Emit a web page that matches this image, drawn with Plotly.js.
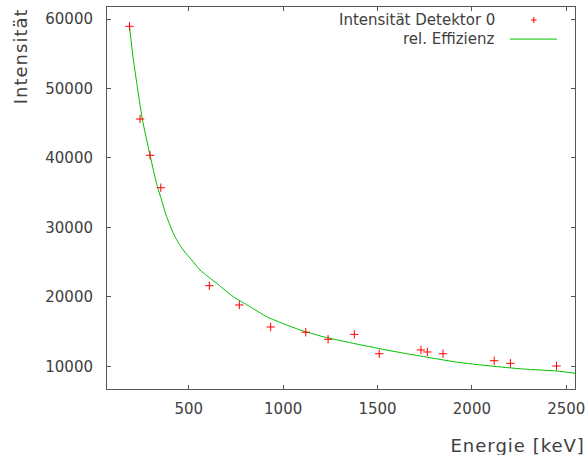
<!DOCTYPE html>
<html>
<head>
<meta charset="utf-8">
<script src="https://cdn.plot.ly/plotly-3.0.1.min.js"></script>
<style>
  html, body { margin: 0; padding: 0; background: #fff; }
  #chart { width: 588px; height: 455px; }
  .annotation[data-index="0"] text, .annotation[data-index="1"] text { letter-spacing: 1px; }
</style>
</head>
<body>
<div id="chart"></div>
<script>
// Measured intensities (keV, counts)
const energies = [186, 242, 295, 352, 609, 768, 934, 1120, 1238, 1377, 1509, 1730, 1764, 1847, 2118, 2204, 2448];
const intensities = [58950, 45600, 40380, 35710, 21600, 18830, 15660, 14900, 13890, 14600, 11810, 12350, 12060, 11810, 10800, 10430, 10040];

// Relative efficiency curve (keV, value)
const effEnergies = [186, 205, 225, 254, 295, 313, 334, 352, 383, 427, 471, 516, 560, 648, 736, 825, 913, 1000, 1090, 1213, 1390, 1566, 1743, 1920, 2096, 2272, 2449, 2546];
const effValues = [58950, 54500, 50700, 45600, 40400, 38200, 35860, 34300, 31540, 28660, 26740, 25300, 23860, 21950, 20020, 18580, 17140, 16150, 15230, 14250, 13200, 12250, 11400, 10600, 10050, 9610, 9320, 9000];

const xTicks = [500, 1000, 1500, 2000, 2500];
const yTicks = [10000, 20000, 30000, 40000, 50000, 60000];
const seriesNames = ['Intensität Detektor 0', 'rel. Effizienz'];
const xTitle = 'Energie [keV]';
const yTitle = 'Intensität';

const FONT = 'DejaVu Sans, sans-serif';
const TXT = '#404040';
const AX = '#555555';

const traces = [
  {
    x: effEnergies, y: effValues, type: 'scatter', mode: 'lines',
    line: { color: '#00c000', width: 1, shape: 'spline', smoothing: 0.6 }, name: seriesNames[1], showlegend: false
  },
  {
    x: energies, y: intensities, type: 'scatter', mode: 'markers',
    marker: { symbol: 'cross-thin', size: 6, line: { color: '#ff0000', width: 1 }, color: '#ff0000' },
    name: seriesNames[0], showlegend: false
  }
];

const axisCommon = {
  showgrid: false, zeroline: false,
  showline: true, linecolor: AX, linewidth: 1, mirror: 'ticks',
  ticks: 'inside', ticklen: 4, tickwidth: 1, tickcolor: AX,
  tickfont: { family: FONT, size: 15, color: TXT }
};

const layout = {
  width: 588, height: 455,
  margin: { l: 107, r: 13, t: 7, b: 66 },
  paper_bgcolor: '#fff', plot_bgcolor: '#fff',
  showlegend: false,
  xaxis: Object.assign({}, axisCommon, {
    range: [67, 2546], tickvals: xTicks, ticktext: xTicks.map(String),
    ticklabelstandoff: 6
  }),
  yaxis: Object.assign({}, axisCommon, {
    range: [6732, 61727], tickvals: yTicks, ticktext: yTicks.map(String),
    ticklabelstandoff: 10
  }),
  annotations: [
    { text: yTitle, xref: 'paper', yref: 'paper', x: -0.183, y: 0.872, xanchor: 'center', yanchor: 'middle',
      textangle: -90, showarrow: false, font: { family: FONT, size: 18, color: TXT } },
    { text: xTitle, xref: 'paper', yref: 'paper', x: 1.01, y: -0.148, xanchor: 'right', yanchor: 'middle',
      showarrow: false, font: { family: FONT, size: 18, color: TXT } },
    { text: seriesNames[0], xref: 'paper', yref: 'paper', x: 0.8333, y: 0.966, xanchor: 'right', yanchor: 'middle',
      showarrow: false, font: { family: FONT, size: 15, color: TXT } },
    { text: seriesNames[1], xref: 'paper', yref: 'paper', x: 0.8333, y: 0.916, xanchor: 'right', yanchor: 'middle',
      showarrow: false, font: { family: FONT, size: 15, color: TXT } }
  ],
  shapes: [
    // legend sample: line
    { type: 'line', xref: 'paper', yref: 'paper', x0: 0.861, x1: 0.9615, y0: 0.916, y1: 0.916,
      line: { color: '#00c000', width: 1 } },
    // legend sample: plus
    { type: 'line', xref: 'paper', yref: 'paper', x0: 0.906, x1: 0.918, y0: 0.966, y1: 0.966,
      line: { color: '#ff0000', width: 1 } },
    { type: 'line', xref: 'paper', yref: 'paper', x0: 0.912, x1: 0.912, y0: 0.958, y1: 0.974,
      line: { color: '#ff0000', width: 1 } }
  ]
};

Plotly.newPlot('chart', traces, layout, { displayModeBar: false, staticPlot: true });
</script>
</body>
</html>
